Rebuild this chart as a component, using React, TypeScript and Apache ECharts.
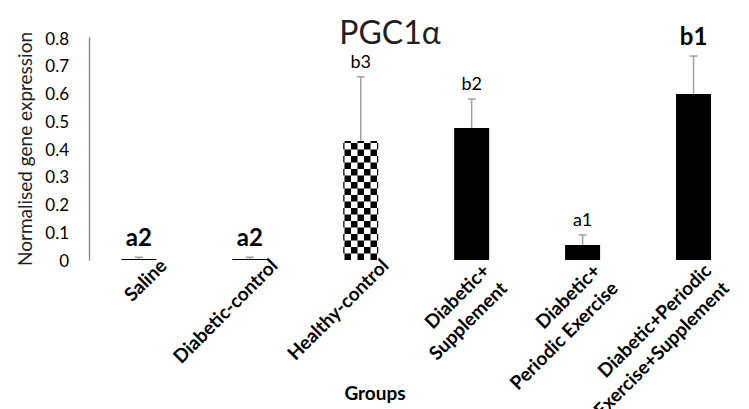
import React, { useEffect, useRef } from "react";
import * as echarts from "echarts";

const categories = [
  "Saline",
  "Diabetic-control",
  "Healthy-control",
  "Diabetic+\nSupplement",
  "Diabetic+\nPeriodic Exercise",
  "Diabetic+Periodic\nExercise+Supplement",
];
const means = [0.004, 0.004, 0.429, 0.476, 0.054, 0.598];
const errorTops = [0.01, 0.01, 0.66, 0.58, 0.09, 0.735];
const letters = ["a2", "a2", "b3", "b2", "a1", "b1"];
const letterBold = [true, true, false, false, false, true];
const patterned = [false, false, true, false, false, false];

const FONT = "Lato, 'Open Sans', sans-serif";

function checkerImage(): string {
  const c = document.createElement("canvas");
  c.width = 26;
  c.height = 26;
  const ctx = c.getContext("2d")!;
  ctx.fillStyle = "#ffffff";
  ctx.fillRect(0, 0, 26, 26);
  ctx.fillStyle = "#000000";
  ctx.fillRect(0, 0, 13, 13);
  ctx.fillRect(13, 13, 13, 13);
  return c.toDataURL();
}

export default function App() {
  const ref = useRef<HTMLDivElement>(null);
  useEffect(() => {
    if (!ref.current) return;
    const chart = echarts.init(ref.current, null, { renderer: "svg" });
    const checker = checkerImage();
    const D = Math.SQRT1_2;

    const option: any = {
      animation: false,
      backgroundColor: "#ffffff",
      title: {
        text: "PGC1α",
        left: 385,
        top: 13,
        textAlign: "center",
        textStyle: { fontFamily: FONT, fontSize: 32, lineHeight: 26, fontWeight: "normal", color: "#1f1f1f" },
      },
      grid: { left: 83.4, top: 38, width: 691, bottom: 149, containLabel: false },
      xAxis: {
        type: "category",
        data: categories,
        axisLine: { show: false },
        axisTick: { show: false },
        axisLabel: { show: false },
        splitLine: { show: false },
      },
      yAxis: {
        type: "value",
        min: 0,
        max: 0.8,
        interval: 0.1,
        offset: -5.6,
        name: "Normalised gene expression",
        nameLocation: "middle",
        nameRotate: 90,
        nameGap: 54,
        nameTextStyle: { fontFamily: FONT, fontSize: 19, color: "#1f1f1f" },
        axisLine: { show: true, lineStyle: { color: "#858585", width: 1.3 } },
        axisTick: { show: false },
        splitLine: { show: false },
        axisLabel: { fontFamily: FONT, fontSize: 17, color: "#000000", margin: 20 },
      },
      graphic: [
        {
          type: "text",
          x: 375,
          y: 392,
          style: {
            text: "Groups",
            align: "center",
            verticalAlign: "middle",
            fontFamily: FONT,
            fontSize: 19,
            fontWeight: "bold",
            fill: "#000000",
          },
        },
      ],
      series: [
        {
          type: "bar",
          barWidth: 35,
          silent: true,
          data: means.map((v, i) => ({
            value: v,
            itemStyle: patterned[i]
              ? { color: { image: checker, repeat: "repeat", imageWidth: 13, imageHeight: 13 } }
              : { color: "#000000" },
          })),
        },
        {
          type: "custom",
          silent: true,
          data: means.map((v, i) => [i, v, errorTops[i]]),
          renderItem: (params: any, api: any) => {
            const i = api.value(0);
            const base = api.coord([i, api.value(1)]);
            const top = api.coord([i, api.value(2)]);
            const st = { stroke: "#a0a0a0", lineWidth: 1.5 };
            return {
              type: "group",
              children: [
                { type: "line", shape: { x1: base[0], y1: base[1], x2: top[0], y2: top[1] }, style: st },
                { type: "line", shape: { x1: top[0] - 4, y1: top[1], x2: top[0] + 4, y2: top[1] }, style: st },
              ],
            };
          },
        },
        {
          type: "custom",
          silent: true,
          data: errorTops.map((v, i) => [i, v]),
          renderItem: (params: any, api: any) => {
            const i = api.value(0);
            const p = api.coord([i, api.value(1)]);
            const bold = letterBold[i];
            return {
              type: "text",
              x: p[0],
              y: p[1] - (bold ? 21 : 16),
              style: {
                text: letters[i],
                align: "center",
                verticalAlign: "middle",
                fontFamily: FONT,
                fontSize: bold ? 24 : 18,
                fontWeight: bold ? "bold" : "normal",
                fill: "#000000",
              },
            };
          },
        },
        {
          type: "custom",
          silent: true,
          data: categories.map((c, i) => [i, 0]),
          renderItem: (params: any, api: any) => {
            const i = api.value(0);
            const p = api.coord([i, 0]);
            const lines = categories[i].split("\n");
            const n = lines.length;
            const lh = 25;
            const x0 = p[0] + 17 - 10 * (n - 1);
            const y0 = p[1] - 5 + 5 * (n - 1);
            return {
              type: "group",
              children: lines.map((t, k) => ({
                type: "text",
                x: x0 + k * lh * D,
                y: y0 + k * lh * D,
                rotation: Math.PI / 4,
                style: {
                  text: t,
                  align: "right",
                  verticalAlign: "top",
                  fontFamily: FONT,
                  fontSize: 19,
                  fontWeight: "bold",
                  fill: "#000000",
                },
              })),
            };
          },
        },
      ],
    };
    chart.setOption(option);
    return () => chart.dispose();
  }, []);
  return (
    <div
      ref={ref}
      style={{ position: "absolute", left: 0, top: 0, width: 749, height: 409, background: "#fff" }}
    />
  );
}
